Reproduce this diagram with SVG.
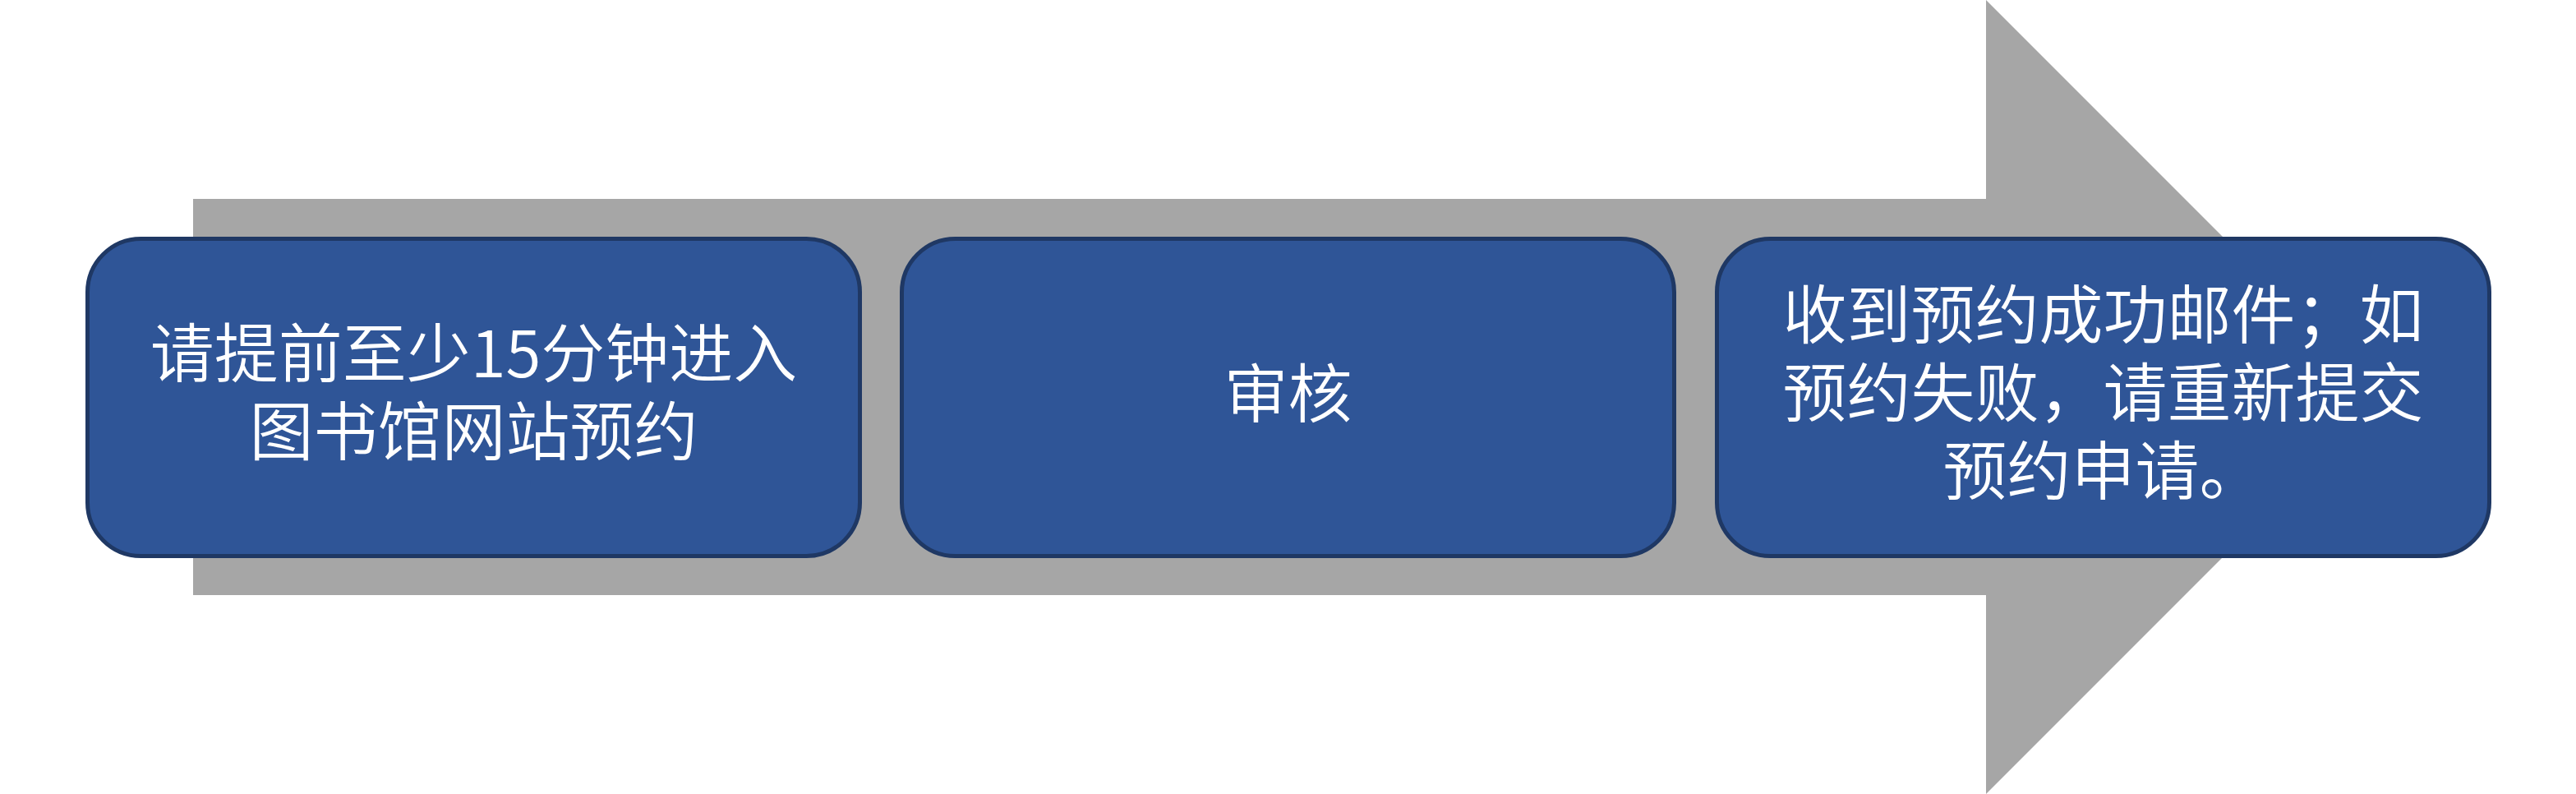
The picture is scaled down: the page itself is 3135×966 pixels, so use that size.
<svg xmlns="http://www.w3.org/2000/svg" width="3135" height="966" viewBox="0 0 3135 966">
<style>
.box{fill:#2F5597;stroke:#1F3864;stroke-width:5}
.t{font-family:"Noto Sans CJK SC","Noto Sans",sans-serif;font-size:78px;font-weight:350;fill:#FFFFFF;text-anchor:middle}
</style>
<rect width="3135" height="966" fill="#FFFFFF"/>
<g id="connectors">
<polygon id="arrow" points="235,242 2417,242 2417,0 2900,483 2417,966 2417,724 235,724" fill="#A6A6A6"/>
</g>
<g id="node1">
<rect class="box" x="106.5" y="290.5" width="940" height="386" rx="65" ry="65"/>
<text class="t" x="576.5" y="459">请提前至少15分钟进入</text>
<text class="t" x="576.5" y="554">图书馆网站预约</text>
</g>
<g id="node2">
<rect class="box" x="1097.5" y="290.5" width="940" height="386" rx="65" ry="65"/>
<text class="t" x="1567.5" y="508">审核</text>
</g>
<g id="node3">
<rect class="box" x="2089.5" y="290.5" width="940" height="386" rx="65" ry="65"/>
<text class="t" x="2559.5" y="412">收到预约成功邮件；如</text>
<text class="t" x="2559.5" y="507">预约失败，请重新提交</text>
<text class="t" x="2559.5" y="602">预约申请。</text>
</g>
</svg>
